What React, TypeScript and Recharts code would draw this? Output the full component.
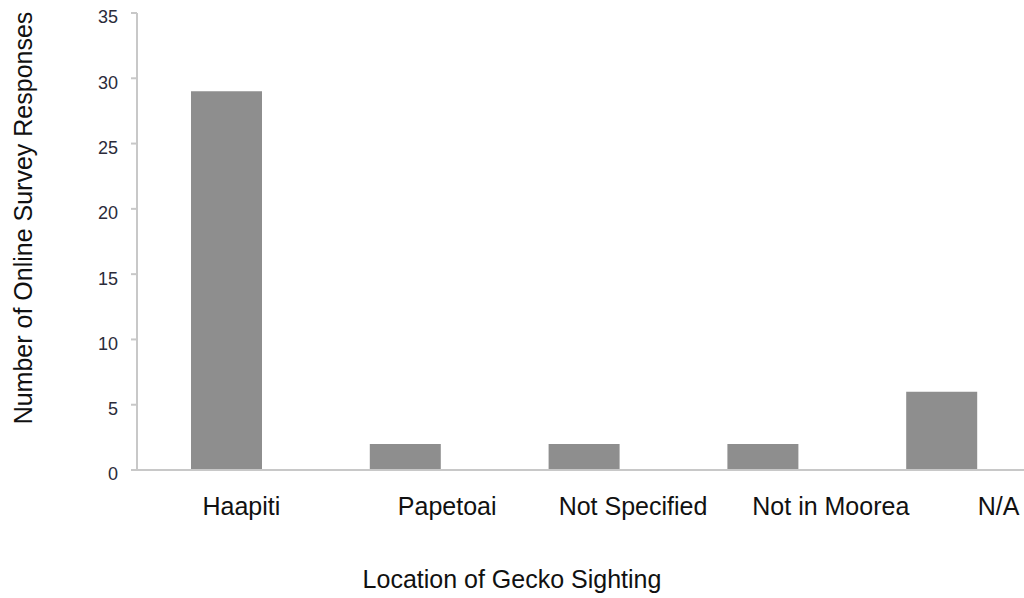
import React from 'react';
import { BarChart, Bar, XAxis, YAxis, Label } from 'recharts';

const categories = ['Haapiti', 'Papetoai', 'Not Specified', 'Not in Moorea', 'N/A'];
const responses = [29, 2, 2, 2, 6];
const yTicks = [0, 5, 10, 15, 20, 25, 30, 35];

const data = categories.map((c, i) => ({ name: c, value: responses[i] }));

const FONT = '"Liberation Sans", Arial, Helvetica, sans-serif';
// horizontal nudges of the category labels relative to their band centres
const labelShift = [15, 42, 49, 68, 57];

const YTitle = (props: any) => {
  const { viewBox } = props;
  const cx = viewBox.x + 32;
  const cy = 218;
  return (
    <text
      x={cx}
      y={cy}
      transform={`rotate(-90 ${cx} ${cy})`}
      textAnchor="middle"
      fontFamily={FONT}
      fontSize={25}
      fill="#111"
    >
      Number of Online Survey Responses
    </text>
  );
};

const XTitle = () => (
  <text x={512} y={588} textAnchor="middle" fontFamily={FONT} fontSize={25} fill="#111">
    Location of Gecko Sighting
  </text>
);

const CatTick = (props: any) => {
  const { x, y, payload, index } = props;
  return (
    <text x={x + (labelShift[index] || 0)} y={y} dy={18} textAnchor="middle" fontFamily={FONT} fontSize={25} fill="#111">
      {payload.value}
    </text>
  );
};

export default function App() {
  return (
    <div style={{ position: 'absolute', left: 0, top: 0, width: 1024, height: 598, background: '#fff', overflow: 'hidden' }}>
      <BarChart
        width={1031}
        height={598}
        data={data}
        margin={{ top: 13, right: 0, bottom: 0, left: 0 }}
        barSize={71}
      >
        <YAxis
          width={137}
          domain={[0, 35]}
          ticks={yTicks}
          interval={0}
          axisLine={{ stroke: '#c8c8c8', strokeWidth: 2 }}
          tickLine={{ stroke: '#c8c8c8', strokeWidth: 2 }}
          tickSize={6}
          tickMargin={13}
          tick={{ fontFamily: FONT, fontSize: 18, fill: '#2b2b3a', dy: 4 }}
        >
          <Label content={<YTitle />} />
        </YAxis>
        <XAxis
          dataKey="name"
          height={128}
          axisLine={{ stroke: '#c8c8c8', strokeWidth: 2 }}
          tickLine={false}
          tickSize={0}
          tickMargin={27}
          interval={0}
          tick={<CatTick />}
        >
          <Label content={<XTitle />} />
        </XAxis>
        <Bar dataKey="value" fill="#8e8e8e" isAnimationActive={false} />
      </BarChart>
    </div>
  );
}
